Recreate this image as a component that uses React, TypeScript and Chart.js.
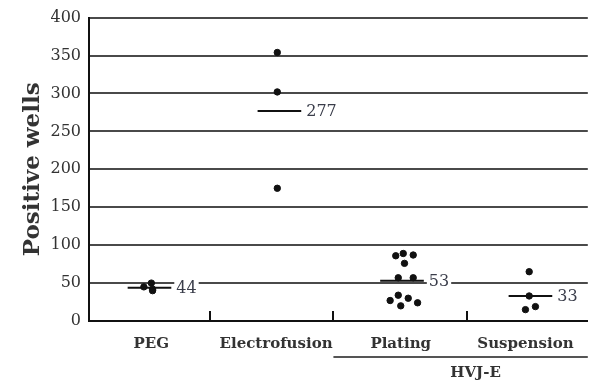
import React, { useEffect, useRef } from 'react';
import { Chart, registerables } from 'chart.js';

Chart.register(...registerables);

// ---- data ----
const categories = ['PEG', 'Electrofusion', 'Plating', 'Suspension'];
const pegValues = [50, 45, 42, 40];
const pegJitter = [0.0, -0.06, 0.01, 0.01];
const electroValues = [354, 302, 175];
const electroJitter = [0.01, 0.01, 0.01];
const platingValues = [86, 89, 87, 76, 57, 57, 27, 34, 30, 20, 24];
const platingJitter = [-0.04, 0.02, 0.1, 0.03, -0.02, 0.1, -0.085, -0.02, 0.06, 0.0, 0.135];
const suspensionValues = [65, 33, 15, 19];
const suspensionJitter = [0.03, 0.03, 0.0, 0.08];
const means = [44, 277, 53, 33];
const meanCenters = [-0.015, 1.027, 2.01, 3.04];
const meanHalfWidth = 0.175;
const yTicks = [0, 50, 100, 150, 200, 250, 300, 350, 400];
const boundaryTicks = [0.47, 1.46, 2.53];
const groupLabel = 'HVJ-E';
const groupSpan = [1.46, 3.5];
const groupLabelAt = 2.6;

const groups = [
  { values: pegValues, jitter: pegJitter },
  { values: electroValues, jitter: electroJitter },
  { values: platingValues, jitter: platingJitter },
  { values: suspensionValues, jitter: suspensionJitter },
];

const SERIF = '"DejaVu Serif", "Liberation Serif", serif';

const annotPlugin = {
  id: 'annot',
  afterDatasetsDraw(chart: any) {
    const { ctx, scales, chartArea } = chart;
    const xs = scales.x;
    const ys = scales.y;
    ctx.save();
    // mean labels
    ctx.font = `16px ${SERIF}`;
    ctx.textBaseline = 'middle';
    ctx.textAlign = 'left';
    means.forEach((m, i) => {
      const x = xs.getPixelForValue(meanCenters[i] + meanHalfWidth) + 4;
      const y = ys.getPixelForValue(m);
      const t = String(m);
      const w = ctx.measureText(t).width;
      ctx.fillStyle = '#ffffff';
      ctx.fillRect(x - 1, y - 8, w + 4, 16);
      ctx.fillStyle = '#3a3d4a';
      ctx.fillText(t, x + 1, y + 1);
    });
    // boundary ticks
    ctx.strokeStyle = '#111';
    ctx.lineWidth = 2;
    boundaryTicks.forEach((b) => {
      const x = Math.round(xs.getPixelForValue(b));
      ctx.beginPath();
      ctx.moveTo(x, chartArea.bottom);
      ctx.lineTo(x, chartArea.bottom - 10);
      ctx.stroke();
    });
    // group underline
    const gy = chartArea.bottom + 36;
    ctx.strokeStyle = '#555';
    ctx.lineWidth = 2;
    ctx.beginPath();
    ctx.moveTo(xs.getPixelForValue(groupSpan[0]), gy);
    ctx.lineTo(xs.getPixelForValue(groupSpan[1]), gy);
    ctx.stroke();
    ctx.font = `bold 15px ${SERIF}`;
    ctx.fillStyle = '#333';
    ctx.textAlign = 'center';
    ctx.textBaseline = 'middle';
    ctx.fillText(groupLabel, xs.getPixelForValue(groupLabelAt), gy + 16);
    ctx.restore();
  },
};

export default function App() {
  const ref = useRef<HTMLCanvasElement | null>(null);
  useEffect(() => {
    if (!ref.current) return;
    const datasets: any[] = [];
    groups.forEach((g, i) => {
      datasets.push({
        type: 'scatter',
        data: g.values.map((v, k) => ({ x: i + g.jitter[k], y: v })),
        backgroundColor: '#111',
        borderColor: '#111',
        pointRadius: 3.2,
        pointHoverRadius: 3.2,
      });
      datasets.push({
        type: 'line',
        data: [
          { x: meanCenters[i] - meanHalfWidth, y: means[i] },
          { x: meanCenters[i] + meanHalfWidth, y: means[i] },
        ],
        borderColor: '#111',
        borderWidth: 2,
        pointRadius: 0,
        fill: false,
      });
    });
    const chart = new Chart(ref.current, {
      type: 'scatter',
      data: { datasets },
      options: {
        animation: false,
        responsive: false,
        layout: { padding: { top: 16, right: 0, left: 0, bottom: 0 } },
        plugins: { legend: { display: false }, tooltip: { enabled: false } },
        scales: {
          x: {
            type: 'linear',
            min: -0.5,
            max: 3.5,
            afterBuildTicks: (s: any) => {
              s.ticks = categories.map((_, i) => ({ value: i }));
            },
            afterFit: (s: any) => {
              s.height = 62;
            },
            ticks: {
              callback: (v: any) => categories[Math.round(Number(v))] ?? '',
              font: { family: SERIF, size: 15, weight: 'bold' },
              color: '#333',
              padding: 14,
              maxRotation: 0,
              autoSkip: false,
            },
            grid: { display: false, drawTicks: false },
            border: { display: true, color: '#111', width: 2 },
          },
          y: {
            min: 0,
            max: 400,
            afterBuildTicks: (s: any) => {
              s.ticks = yTicks.map((v) => ({ value: v }));
            },
            afterFit: (s: any) => {
              s.width = 89;
            },
            ticks: {
              font: { family: SERIF, size: 16 },
              color: '#333',
              padding: 8,
            },
            grid: { color: '#4a4a4a', lineWidth: 2, drawTicks: false },
            border: { display: true, color: '#111', width: 2 },
            title: {
              display: true,
              text: 'Positive wells',
              font: { family: SERIF, size: 23, weight: 'bold' },
              color: '#333',
              padding: { top: 19, bottom: 0 },
            },
          },
        },
      } as any,
      plugins: [annotPlugin],
    });
    return () => chart.destroy();
  }, []);
  return (
    <div style={{ position: 'absolute', left: 0, top: 0, width: 592, height: 383, background: '#fff' }}>
      <canvas ref={ref} width={592} height={383} style={{ width: 592, height: 383 }} />
    </div>
  );
}
